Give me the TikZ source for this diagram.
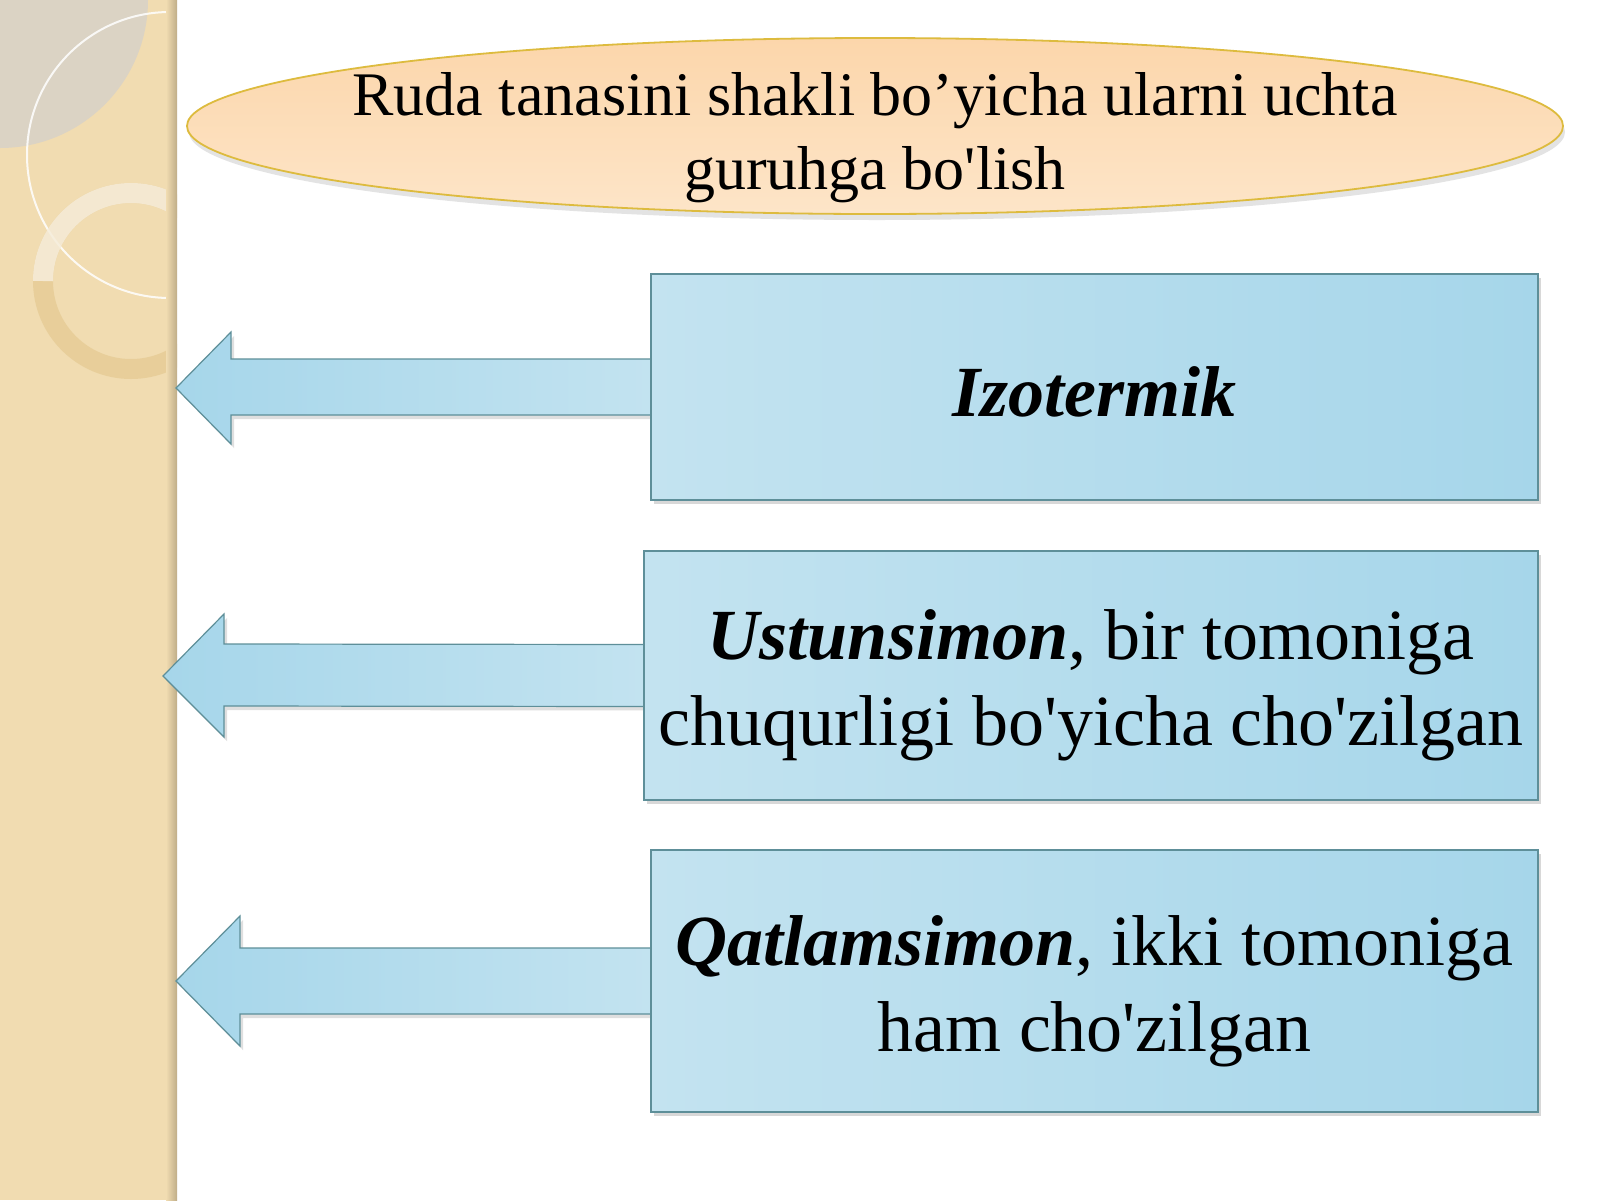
\documentclass[tikz,border=0pt]{standalone}
\usepackage{fontspec}
\setmainfont{Liberation Serif}[Ligatures=TeXOff]
\usetikzlibrary{shapes.geometric, shadows, calc}

\definecolor{sideBeige}{HTML}{F1DCB1}
\definecolor{sideGrey}{HTML}{DBD3C4}
\definecolor{sideEdge}{HTML}{BFAD88}
\definecolor{ringGold}{HTML}{E2C68C}
\definecolor{peachTop}{HTML}{FCD6AB}
\definecolor{peachBot}{HTML}{FDE5C8}
\definecolor{ellGold}{HTML}{DDBB3E}
\definecolor{boxLight}{HTML}{C3E3F0}
\definecolor{boxDark}{HTML}{A6D6EA}
\definecolor{boxLine}{HTML}{5E8F99}

\pgfdeclarelayer{back}
\pgfdeclarelayer{mid}
\pgfsetlayers{back,mid,main}

% extra room above the first line, pushes the text down
\newcommand{\topgap}[1]{\rule{0pt}{#1}}

\begin{document}
\begin{tikzpicture}[x=1pt, y=-1pt,
    titleshape/.style={ellipse, draw=ellGold, line width=1.8pt, top color=peachTop, bottom color=peachBot,
        minimum width=1376pt, minimum height=176pt, inner xsep=-40pt, inner ysep=-22pt, align=center,
        font=\fontsize{62}{74}\selectfont,
        drop shadow={opacity=0.22, shadow xshift=2pt, shadow yshift=-6pt}},
    groupbox/.style={rectangle, draw=boxLine, line width=1.2pt, left color=boxLight, right color=boxDark,
        inner sep=0pt, align=center, font=\fontsize{72}{86}\selectfont,
        drop shadow={opacity=0.3, shadow xshift=3pt, shadow yshift=-4pt}},
    blockarrow/.style={draw=boxLine, line width=1.2pt, line join=miter, left color=boxDark, right color=boxLight,
        drop shadow={opacity=0.25, shadow xshift=3pt, shadow yshift=-4pt}}]

    \useasboundingbox (0,0) rectangle (1600,1200);

    % Background and side strip
    \begin{pgfonlayer}{back}
        \fill[white] (0,0) rectangle (1600,1200);
        \begin{scope}
            \clip (0,0) rectangle (177,1200);
            \fill[sideBeige] (0,0) rectangle (177,1200);
            \fill[sideGrey] (0,0) circle (148);
            \draw[white, opacity=0.85, line width=2pt] (170,155) circle (143);
            \draw[ringGold, opacity=0.6, line width=20pt] (131,281) circle (88);
            \draw[white, opacity=0.55, line width=20pt] (43,281) arc[start angle=180, end angle=360, radius=88];
        \end{scope}
        \shade[left color=sideBeige, right color=sideEdge] (166,0) rectangle (177,1200);
    \end{pgfonlayer}

    % Title
    \node[titleshape] (t) at (875,126) {\topgap{66pt}Ruda tanasini shakli bo’yicha ularni uchta\\guruhga bo'lish};

    % Groups
    \node[groupbox, minimum width=887pt, minimum height=226pt] (b1) at (1094.5,387) {\topgap{60pt}\textbf{\textit{Izotermik}}};
    \node[groupbox, minimum width=894pt, minimum height=249pt] (b2) at (1091,675.5) {\topgap{70pt}\textbf{\textit{Ustunsimon}}, bir tomoniga\\chuqurligi bo'yicha cho'zilgan};
    \node[groupbox, minimum width=887pt, minimum height=262pt] (b3) at (1094.5,981) {\topgap{70pt}\textbf{\textit{Qatlamsimon}}, ikki tomoniga\\ham cho'zilgan};

    \coordinate (a1) at (176,388);
    \coordinate (a2) at (163,676);
    \coordinate (a3) at (176,981);

    % Arrows
    \begin{pgfonlayer}{mid}
        \draw[blockarrow] ($(b1.west)+(10,-28)$) -- ($(b1.west)+(10,28)$) -- ($(a1)+(55,27)$) -- +(0,29) -- (a1) -- +(55,-56) -- +(55,-29) -- cycle;
        \draw[blockarrow] ($(b2.west)+(10,-31)$) -- ($(b2.west)+(10,31)$) -- ($(a2)+(61,30)$) -- +(0,31) -- (a2) -- +(61,-62) -- +(61,-32) -- cycle;
        \draw[blockarrow] ($(b3.west)+(10,-33)$) -- ($(b3.west)+(10,33)$) -- ($(a3)+(64,33)$) -- +(0,32) -- (a3) -- +(64,-65) -- +(64,-33) -- cycle;
    \end{pgfonlayer}
\end{tikzpicture}
\end{document}
